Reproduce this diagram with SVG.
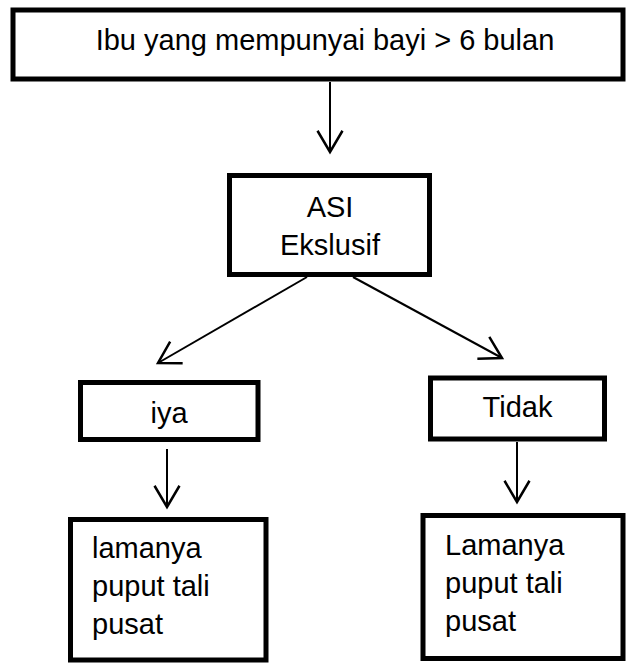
<svg xmlns="http://www.w3.org/2000/svg" width="627" height="663" viewBox="0 0 627 663">
<style>
.box{fill:#fff;stroke:#000;stroke-width:5}
.t{font-family:"Liberation Sans",Arial,sans-serif;font-size:29px;fill:#000}
.c{text-anchor:middle}
.edge{fill:none;stroke:#000;stroke-width:2;marker-end:url(#arr)}
</style>
<defs>
<marker id="arr" markerUnits="userSpaceOnUse" orient="auto" markerWidth="30" markerHeight="30" viewBox="-20 -12 22 24" refX="0" refY="0">
<path d="M-17,-10 L0,0 L-17,10" fill="none" stroke="#000" stroke-width="2"/>
</marker>
</defs>
<rect width="627" height="663" fill="#fff"/>
<g id="connectors">
<line class="edge" x1="330" y1="82" x2="330" y2="152"/>
<line class="edge" x1="307" y1="277" x2="158" y2="363"/>
<line class="edge" x1="353" y1="277" x2="502" y2="358"/>
<line class="edge" x1="167" y1="449" x2="167" y2="507"/>
<line class="edge" x1="517" y1="442" x2="517" y2="502"/>
</g>
<g id="start">
<rect class="box" x="13" y="10" width="610" height="69"/>
<text class="t c" x="325" y="50">Ibu yang mempunyai bayi &gt; 6 bulan</text>
</g>
<g id="asi">
<rect class="box" x="229.5" y="175.5" width="200" height="99"/>
<text class="t c" x="330" y="217">ASI</text>
<text class="t c" x="330" y="255">Ekslusif</text>
</g>
<g id="iya">
<rect class="box" x="80.5" y="382.5" width="177.5" height="57"/>
<text class="t c" x="169" y="423">iya</text>
</g>
<g id="tidak">
<rect class="box" x="430.5" y="378" width="174" height="61"/>
<text class="t c" x="517.5" y="417">Tidak</text>
</g>
<g id="lamanya-iya">
<rect class="box" x="70.5" y="519.5" width="195.5" height="140.5"/>
<text class="t" x="92" y="558">lamanya</text>
<text class="t" x="92" y="596">puput tali</text>
<text class="t" x="92" y="634">pusat</text>
</g>
<g id="lamanya-tidak">
<rect class="box" x="423" y="515.5" width="200" height="143"/>
<text class="t" x="445" y="555">Lamanya</text>
<text class="t" x="445" y="593">puput tali</text>
<text class="t" x="445" y="631">pusat</text>
</g>
</svg>
